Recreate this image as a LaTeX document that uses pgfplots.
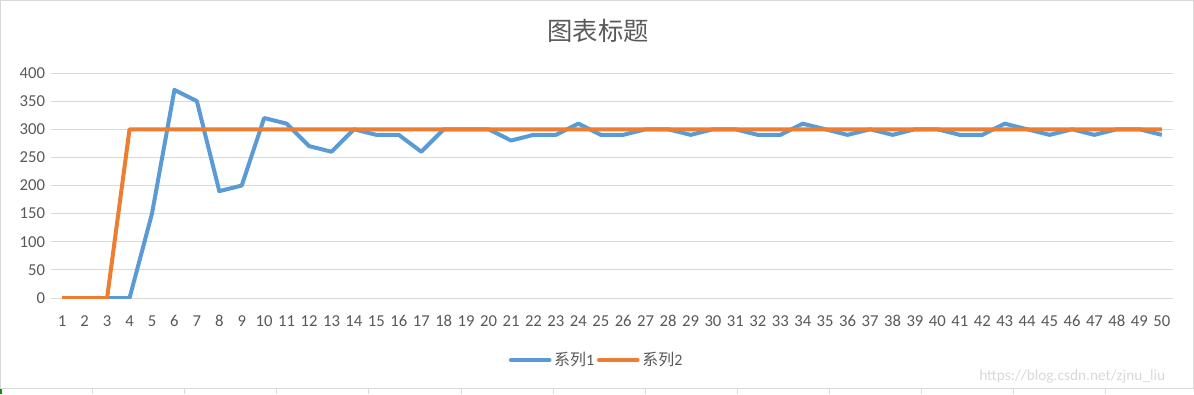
\documentclass[border=0pt]{standalone}
\usepackage{pgfplots}
\pgfplotsset{compat=1.18}
\usepackage{fontspec}
\setmainfont{Carlito}
\newfontfamily\cjk{Noto Sans CJK SC}
\definecolor{s1}{HTML}{5B9BD5}
\definecolor{s2}{HTML}{ED7D31}
\definecolor{txt}{HTML}{595959}
\definecolor{gridc}{HTML}{D9D9D9}
\begin{document}
\begin{tikzpicture}
\path[use as bounding box] (0pt,0pt) rectangle (895.5pt,295.5pt);
\fill[white] (0pt,0pt) rectangle (895.5pt,295.5pt);
% spreadsheet strip at bottom
\foreach \xx in {92,184,276,368,461,553,645,737,829,921,1013,1105}
  \draw[gridc,line width=0.75pt] ({\xx*0.75pt},0pt) -- ({\xx*0.75pt},4.5pt);
\fill[green!60!black] (0pt,0pt) rectangle (1.5pt,4.5pt);
\draw[gridc,line width=0.75pt] (0.375pt,4.5pt) rectangle (895.125pt,295.5pt);
\begin{axis}[
  at={(38.25pt,72pt)}, anchor=south west,
  scale only axis, width=841.5pt, height=168.75pt,
  xmin=0.5, xmax=50.5, ymin=0, ymax=400,
  xtick={1,...,50}, ytick={0,50,...,400},
  ymajorgrids, grid style={draw=gridc, line width=0.75pt},
  axis line style={draw=none},
  major tick length=0pt,
  tick label style={font=\fontsize{12.5}{14}\selectfont, text=txt},
  /pgf/number format/assume math mode=true,
  xticklabel style={yshift=-10pt, text height=8pt, text depth=0pt},
  yticklabel style={xshift=-1pt},
  title={\cjk\fontsize{19}{22}\selectfont 图表标题},
  title style={text=txt, yshift=13pt, xshift=-10.5pt},
  legend style={at={(0.4866,-0.2756)}, anchor=center, draw=none, fill=none,
    legend columns=2, font=\fontsize{12}{14}\selectfont, text=txt,
    /tikz/every even column/.append style={column sep=0pt}},
  legend image code/.code={\draw[#1, line width=3pt, line cap=round] (0pt,0pt) -- (29pt,0pt);},
  line join=round,
]
\addplot[s1, line width=3pt, mark=none] coordinates {
(1,0)(2,0)(3,0)(4,0)(5,150)(6,370)(7,350)(8,190)(9,200)(10,320)
(11,310)(12,270)(13,260)(14,300)(15,290)(16,290)(17,260)(18,300)(19,300)(20,300)
(21,280)(22,290)(23,290)(24,310)(25,290)(26,290)(27,300)(28,300)(29,290)(30,300)
(31,300)(32,290)(33,290)(34,310)(35,300)(36,290)(37,300)(38,290)(39,300)(40,300)
(41,290)(42,290)(43,310)(44,300)(45,290)(46,300)(47,290)(48,300)(49,300)(50,290)
};
\addlegendentry{{\cjk 系列}1}
\addplot[s2, line width=3pt, mark=none] coordinates {
(1,0)(2,0)(3,0)(4,300)(5,300)(6,300)(7,300)(8,300)(9,300)(10,300)
(11,300)(12,300)(13,300)(14,300)(15,300)(16,300)(17,300)(18,300)(19,300)(20,300)
(21,300)(22,300)(23,300)(24,300)(25,300)(26,300)(27,300)(28,300)(29,300)(30,300)
(31,300)(32,300)(33,300)(34,300)(35,300)(36,300)(37,300)(38,300)(39,300)(40,300)
(41,300)(42,300)(43,300)(44,300)(45,300)(46,300)(47,300)(48,300)(49,300)(50,300)
};
\addlegendentry{{\cjk 系列}2}
\end{axis}
\node[anchor=east, text=black!15, font=\fontsize{11.5}{13}\selectfont] at (877.5pt,13.5pt) {https://blog.csdn.net/zjnu\_liu};
\end{tikzpicture}
\end{document}
